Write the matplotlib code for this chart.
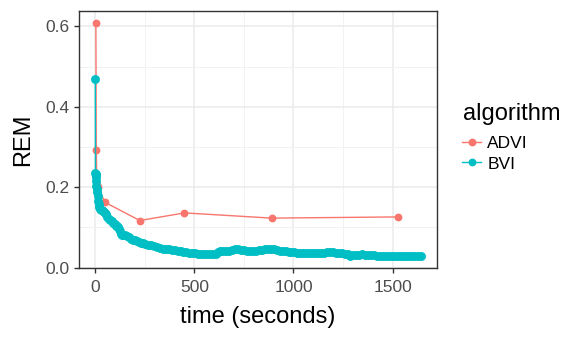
import matplotlib.pyplot as plt
from matplotlib.ticker import MultipleLocator
from matplotlib.lines import Line2D

plt.rcParams['font.family'] = ['Liberation Sans', 'DejaVu Sans']

# ADVI runs
advi_time = [3, 5, 8, 12, 50, 225, 450, 890, 1528]
advi_rem = [0.609, 0.293, 0.205, 0.200, 0.162, 0.117, 0.136, 0.123, 0.126]

# BVI runs
bvi_time = [0, 1, 2, 3, 4, 5, 6, 8, 10, 12, 15, 18, 21, 25, 30, 35, 40, 45, 50, 55,
            60, 67, 75, 82, 90, 98, 105, 110, 115, 120, 125, 130, 135, 140, 150, 160,
            170, 180, 190, 200, 210, 220, 230, 240, 250, 265, 280, 295, 310, 325, 340,
            355, 370, 385, 400, 415, 430, 445, 460, 475, 490, 505, 520, 535, 550, 565,
            580, 595, 610, 620, 630, 645, 660, 675, 690, 705, 720, 735, 750, 765, 780,
            795, 810, 825, 840, 855, 870, 885, 900, 915, 930, 945, 960, 975, 990, 1005,
            1020, 1035, 1050, 1065, 1080, 1095, 1110, 1125, 1140, 1155, 1170, 1185, 1200,
            1215, 1230, 1245, 1260, 1275, 1285, 1300, 1315, 1330, 1345, 1360, 1375, 1390,
            1405, 1420, 1435, 1450, 1465, 1480, 1495, 1510, 1525, 1540, 1555, 1570, 1585,
            1600, 1615, 1630, 1642]
bvi_rem = [0.470, 0.236, 0.232, 0.229, 0.225, 0.215, 0.202, 0.195, 0.187, 0.178, 0.165,
           0.158, 0.150, 0.146, 0.144, 0.142, 0.140, 0.138, 0.136, 0.132, 0.126, 0.121,
           0.118, 0.115, 0.112, 0.108, 0.104, 0.103, 0.101, 0.097, 0.090, 0.084, 0.082,
           0.081, 0.080, 0.078, 0.075, 0.072, 0.069, 0.068, 0.066, 0.064, 0.062, 0.060,
           0.059, 0.057, 0.055, 0.053, 0.051, 0.049, 0.047, 0.046, 0.045, 0.044, 0.043,
           0.042, 0.040, 0.039, 0.038, 0.037, 0.036, 0.036, 0.035, 0.035, 0.034, 0.034,
           0.034, 0.034, 0.035, 0.038, 0.042, 0.042, 0.040, 0.042, 0.044, 0.046, 0.045,
           0.044, 0.043, 0.042, 0.041, 0.041, 0.042, 0.043, 0.044, 0.045, 0.046, 0.047,
           0.046, 0.044, 0.042, 0.041, 0.040, 0.039, 0.039, 0.038, 0.037, 0.037, 0.037,
           0.036, 0.036, 0.036, 0.037, 0.037, 0.037, 0.037, 0.038, 0.038, 0.038, 0.037,
           0.036, 0.036, 0.035, 0.033, 0.030, 0.031, 0.032, 0.032, 0.033, 0.032, 0.032,
           0.031, 0.031, 0.030, 0.030, 0.029, 0.029, 0.028, 0.028, 0.028, 0.028, 0.028,
           0.029, 0.029, 0.029, 0.030, 0.030, 0.030, 0.030]

x_ticks = [0, 500, 1000, 1500]
y_ticks = [0.0, 0.2, 0.4, 0.6]

fig = plt.figure(figsize=(5.81, 3.39), dpi=100)
ax = fig.add_axes([79/581, 1-268/339, (437-79)/581, (268-11)/339])

ax.plot(advi_time, advi_rem, color='#F8766D', lw=1.0, marker='o', ms=4.6, zorder=3)
ax.plot(bvi_time, bvi_rem, color='#00BFC4', lw=1.0, marker='o', ms=5.4, zorder=3)
ax.margins(0.05)

ax.set_xticks(x_ticks)
ax.set_yticks(y_ticks)
ax.set_yticklabels(['%.1f' % v for v in y_ticks])
ax.xaxis.set_minor_locator(MultipleLocator(250))
ax.yaxis.set_minor_locator(MultipleLocator(0.1))
ax.grid(which='major', color='#EBEBEB', lw=1.1, zorder=0)
ax.grid(which='minor', color='#F2F2F2', lw=0.7, zorder=0)
ax.set_axisbelow(True)
for s in ax.spines.values():
    s.set_color('#333333')
    s.set_linewidth(1.0)
ax.tick_params(which='major', length=3.5, width=1.0, color='#333333',
               labelsize=12.5, labelcolor='#4D4D4D')
ax.tick_params(axis='x', pad=5)
ax.tick_params(axis='y', pad=3)
ax.tick_params(which='minor', length=0)

ax.set_xlabel('time (seconds)', fontsize=17, labelpad=8)
ax.set_ylabel('REM', fontsize=17, labelpad=8.5)

# legend
fig.text(463/581, 1-114/339, 'algorithm', fontsize=17, ha='left', va='center')
handles = [Line2D([], [], color='#F8766D', lw=1.0, marker='o', ms=4.6),
           Line2D([], [], color='#00BFC4', lw=1.0, marker='o', ms=4.6)]
fig.legend(handles, ['ADVI', 'BVI'], loc='upper left', bbox_to_anchor=(462/581, 1-136/339),
           frameon=False, fontsize=12.5, handlelength=1.1, handletextpad=0.35,
           labelspacing=0.3, borderpad=0, borderaxespad=0)

fig.savefig('out.png', dpi=100)
